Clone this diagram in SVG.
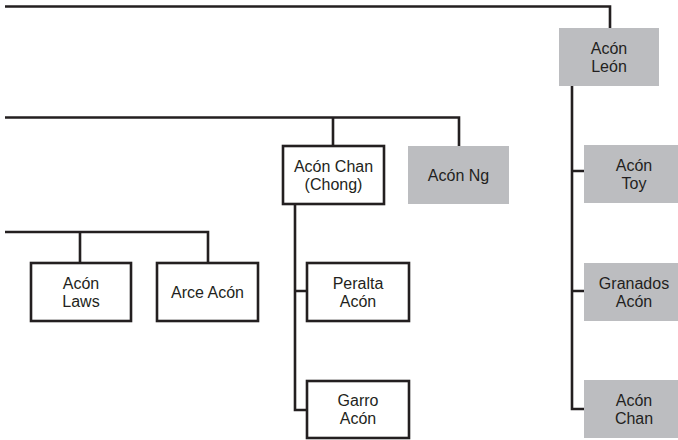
<svg xmlns="http://www.w3.org/2000/svg" width="678" height="440" viewBox="0 0 678 440">
  <style>
    .link { fill: none; stroke: #231f20; stroke-width: 2.6; stroke-linejoin: miter; stroke-linecap: butt; }
    .box-w { fill: #ffffff; stroke: #231f20; stroke-width: 2.6; }
    .box-g { fill: #bcbdc0; stroke: none; }
    text { font-family: "Liberation Sans", Arial, sans-serif; font-size: 16px; fill: #231f20; text-anchor: middle; }
  </style>
  <rect width="678" height="440" fill="#ffffff"/>

  <!-- connectors -->
  <g id="connectors">
    <path class="link" d="M5 6.5 H610 V28"/>
    <path class="link" d="M572 86 V409 H584 M572 171 H584 M572 291 H584"/>
    <path class="link" d="M5 117.5 H459 V146 M333 117.5 V146"/>
    <path class="link" d="M295 204 V410 H307 M295 291 H307"/>
    <path class="link" d="M5 232 H208 V263 M80 232 V263"/>
  </g>

  <g id="acon-leon">
    <rect class="box-g" x="559" y="28" width="100" height="58"/>
    <text x="609" y="54">Acón</text>
    <text x="609" y="72">León</text>
  </g>

  <g id="acon-chan-chong">
    <rect class="box-w" x="283" y="146" width="101" height="58"/>
    <text x="333.5" y="172">Acón Chan</text>
    <text x="333.5" y="190">(Chong)</text>
  </g>

  <g id="acon-ng">
    <rect class="box-g" x="408" y="146" width="101" height="58"/>
    <text x="458.5" y="181">Acón Ng</text>
  </g>

  <g id="acon-laws">
    <rect class="box-w" x="31" y="263" width="100" height="58"/>
    <text x="81" y="289">Acón</text>
    <text x="81" y="307">Laws</text>
  </g>

  <g id="arce-acon">
    <rect class="box-w" x="157" y="263" width="101" height="58"/>
    <text x="207.5" y="298">Arce Acón</text>
  </g>

  <g id="peralta-acon">
    <rect class="box-w" x="307" y="263" width="102" height="58"/>
    <text x="358" y="289">Peralta</text>
    <text x="358" y="307">Acón</text>
  </g>

  <g id="garro-acon">
    <rect class="box-w" x="307" y="381" width="102" height="57"/>
    <text x="358" y="406">Garro</text>
    <text x="358" y="424">Acón</text>
  </g>

  <g id="acon-toy">
    <rect class="box-g" x="584" y="145" width="100" height="58"/>
    <text x="634" y="171">Acón</text>
    <text x="634" y="189">Toy</text>
  </g>

  <g id="granados-acon">
    <rect class="box-g" x="584" y="263" width="100" height="58"/>
    <text x="634" y="289">Granados</text>
    <text x="634" y="307">Acón</text>
  </g>

  <g id="acon-chan">
    <rect class="box-g" x="584" y="380" width="100" height="58"/>
    <text x="634" y="406">Acón</text>
    <text x="634" y="424">Chan</text>
  </g>
</svg>
